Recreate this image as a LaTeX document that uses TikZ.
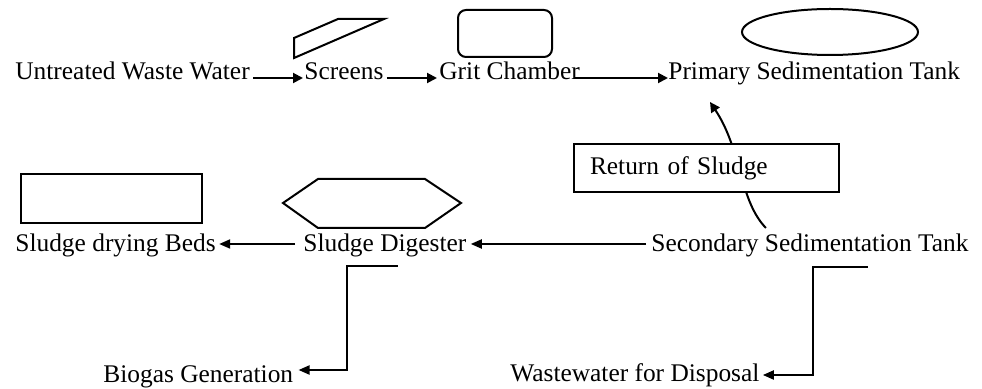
\documentclass[tikz,border=0pt]{standalone}
\usepackage{fontspec}
\setmainfont{Liberation Serif}
\usetikzlibrary{arrows.meta}

\tikzset{
  lbl/.style={inner sep=0pt, anchor=base west, font=\fontsize{12.7}{15}\selectfont},
  flow/.style={line width=1pt, -{Triangle[length=5pt,width=5pt]}},
  flowsm/.style={line width=1pt, -{Triangle[length=5.5pt,width=4.5pt]}},
  icon/.style={line width=1pt},
  plainbox/.style={draw, line width=0.8pt, fill=white, minimum width=132.5pt,
    minimum height=24pt, text width=116.5pt, inner xsep=8pt, align=left,
    font=\fontsize{12.7}{15}\selectfont}
}

\begin{document}
\begin{tikzpicture}[x=0.5pt, y=-0.5pt]
  \useasboundingbox (0,0) rectangle (982,389);

  % process symbols
  \draw[icon] (294,58) -- (294,38) -- (338,19) -- (384,19) -- cycle;
  \draw[icon, rounded corners=4pt] (458,10) rectangle (552,57);
  \draw[icon] (830,32) ellipse [x radius=44pt, y radius=11.5pt];
  \draw[icon] (21,174) rectangle (202,223);
  \draw[icon] (283,203) -- (318,179) -- (425,179) -- (461,203)
              -- (425,228) -- (318,228) -- cycle;

  % labels
  \node[lbl] (utw) at (15,80)  {Untreated Waste Water};
  \node[lbl] (scr) at (304,80) {Screens};
  \node[lbl] (grit) at (439,80) {Grit Chamber};
  \node[lbl] (pst) at (668,80) {Primary Sedimentation Tank};
  \node[lbl] (sst) at (651,252) {Secondary Sedimentation Tank};
  \node[lbl] (sd)  at (303,252) {Sludge Digester};
  \node[lbl] (sdb) at (15,252)  {Sludge drying Beds};
  \node[lbl] (bio) at (103,383) {Biogas Generation};
  \node[lbl] (wfd) at (510,382) {Wastewater for Disposal};

  % main line
  \draw[flow] ([shift={(3,-2)}]utw.base east) -- ([shift={(-1,-2)}]scr.base west);
  \draw[flow] ([shift={(3,-2)}]scr.base east) -- ([shift={(-2,-2)}]grit.base west);
  \draw[flow] ([shift={(-5,-2)}]grit.base east) -- ([shift={(0,-2)}]pst.base west);

  % sludge line
  \draw[flowsm] ([shift={(-5,-8)}]sst.base west) -- ([shift={(4,-8)}]sd.base east);
  \draw[flowsm] ([shift={(-8,-8)}]sd.base west) -- ([shift={(3,-8)}]sdb.base east);

  % outlets
  \draw[flowsm] ([shift={(13,14)}]sd.base) -- ++(-51,0)
        |- ([shift={(5,-13)}]bio.base east);
  \draw[flowsm] ([shift={(58,15)}]sst.base) -- ++(-55,0)
        |- ([shift={(3,-7)}]wfd.base east);

  % return of sludge
  \draw[flow] ([shift={(-44,-24)}]sst.base)
        .. controls +(-27,-28) and +(32,48) .. ([shift={(42,22)}]pst.base west);
  \node[plainbox] (ret) at (706.5,168) {Return of Sludge};
\end{tikzpicture}
\end{document}
